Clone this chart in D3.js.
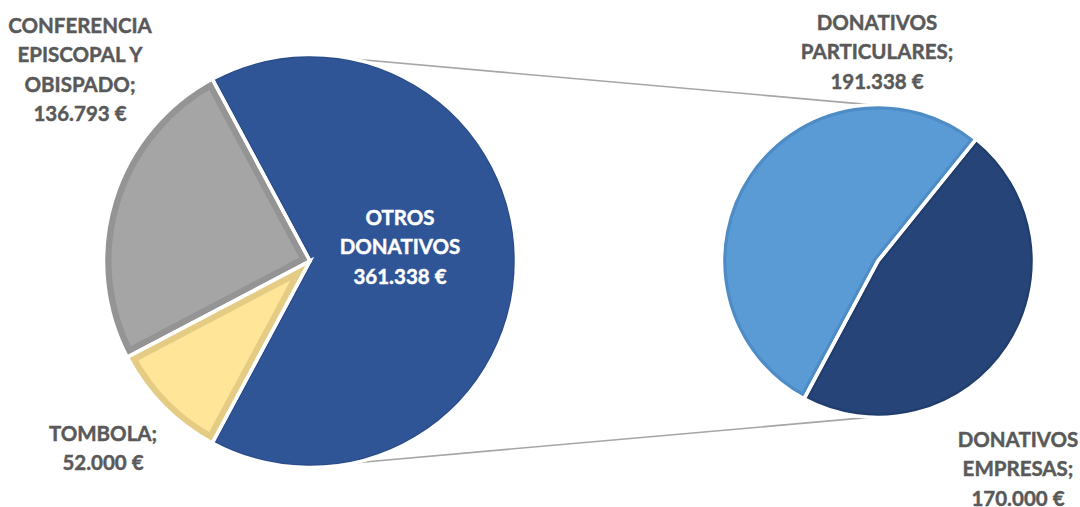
<!DOCTYPE html>
<html>
<head>
<meta charset="utf-8">
<script src="https://cdn.jsdelivr.net/npm/d3@7"></script>
<style>
  html, body { margin: 0; padding: 0; background: #ffffff; }
  svg { display: block; }
  text { font-family: Lato, "Open Sans", "DejaVu Sans", sans-serif; font-weight: 700; }
</style>
</head>
<body>
<svg id="chart" width="1080" height="507"></svg>
<script>
// ---- data ----
const mainCategories = ["OTROS DONATIVOS", "TOMBOLA", "CONFERENCIA EPISCOPAL Y OBISPADO"];
const mainValues = [361338, 52000, 136793];
const mainLabelLines = [["OTROS", "DONATIVOS"], ["TOMBOLA;"], ["CONFERENCIA", "EPISCOPAL Y", "OBISPADO;"]];

const subCategories = ["DONATIVOS PARTICULARES", "DONATIVOS EMPRESAS"];
const subValues = [191338, 170000];
const subLabelLines = [["DONATIVOS", "PARTICULARES;"], ["DONATIVOS", "EMPRESAS;"]];

// ---- styles / layout ----
const mainFill = ["#2F5597", "#FFE598", "#A5A5A5"];
const mainEdge = ["#2A4C88", "#E4CC84", "#949494"];
const mainEdgeW = [3, 8, 8];
const subFill = ["#5B9BD5", "#264478"];
const subEdge = ["#4E8CC6", "#213D6C"];
const subEdgeW = [5, 4];

const mainCenter = [310, 261], mainR = 205;
const subCenter = [878, 261], subR = 155;

const mainLabelPos = [[400, 225, "#ffffff"], [103, 441, "#595959"], [80, 33, "#595959"]];
const subLabelPos = [[877, 30, "#595959"], [1018, 447, "#595959"]];
const lineH = 29.3;
const fontSize = 20.5;

const fmt = v => d3.format(",")(v).replace(/,/g, ".") + " €";

const svg = d3.select("#chart");
const defs = svg.append("defs");

// ---- main pie: "other" slice centred on 3 o'clock ----
const total = d3.sum(mainValues);
const otherShare = mainValues[0] / total;
const mainStart = Math.PI / 2 - otherShare * Math.PI;
const mainPie = d3.pie().sort(null).value(d => d)
  .startAngle(mainStart).endAngle(mainStart + 2 * Math.PI);
const mainArcs = mainPie(mainValues);

const subStart = mainArcs[0].endAngle;
const subPie = d3.pie().sort(null).value(d => d)
  .startAngle(subStart).endAngle(subStart + 2 * Math.PI);
const subArcs = subPie(subValues);

// ---- connector lines (external tangents) ----
const dx = subCenter[0] - mainCenter[0];
const sinT = (mainR - subR) / dx, cosT = Math.sqrt(1 - sinT * sinT);
[-1, 1].forEach(s => {
  svg.append("line")
    .attr("x1", mainCenter[0] + mainR * sinT)
    .attr("y1", mainCenter[1] + s * mainR * cosT)
    .attr("x2", subCenter[0] + subR * sinT)
    .attr("y2", subCenter[1] + s * subR * cosT)
    .attr("stroke", "#A6A6A6")
    .attr("stroke-width", 1.6);
});

function drawPie(arcs, center, r, fills, edges, edgeW, prefix) {
  const arc = d3.arc().innerRadius(0).outerRadius(r);
  const g = svg.append("g").attr("transform", `translate(${center[0]},${center[1]})`);
  arcs.forEach((a, i) => {
    defs.append("clipPath").attr("id", prefix + i)
      .append("path").attr("d", arc(a));
  });
  arcs.forEach((a, i) => {
    g.append("path")
      .attr("d", arc(a))
      .attr("fill", fills[i])
      .attr("stroke", edges[i])
      .attr("stroke-width", edgeW[i] * 2)
      .attr("clip-path", `url(#${prefix + i})`);
  });
  // white separators
  arcs.forEach((a, i) => {
    g.append("path")
      .attr("d", arc(a))
      .attr("fill", "none")
      .attr("stroke", "#ffffff")
      .attr("stroke-width", 3.5)
      .attr("stroke-linejoin", "miter");
  });
}

drawPie(mainArcs, mainCenter, mainR + 1.5, mainFill, mainEdge, mainEdgeW, "mclip");
drawPie(subArcs, subCenter, subR + 1.5, subFill, subEdge, subEdgeW, "sclip");

function drawLabel(lines, value, pos) {
  const t = svg.append("text")
    .attr("text-anchor", "middle")
    .attr("font-size", fontSize)
    .attr("fill", pos[2])
    .attr("stroke", pos[2])
    .attr("stroke-width", 0.45);
  lines.concat([fmt(value)]).forEach((l, i) => {
    t.append("tspan").attr("x", pos[0]).attr("y", pos[1] + i * lineH).text(l);
  });
}
mainValues.forEach((v, i) => drawLabel(mainLabelLines[i], v, mainLabelPos[i]));
subValues.forEach((v, i) => drawLabel(subLabelLines[i], v, subLabelPos[i]));
</script>
</body>
</html>
